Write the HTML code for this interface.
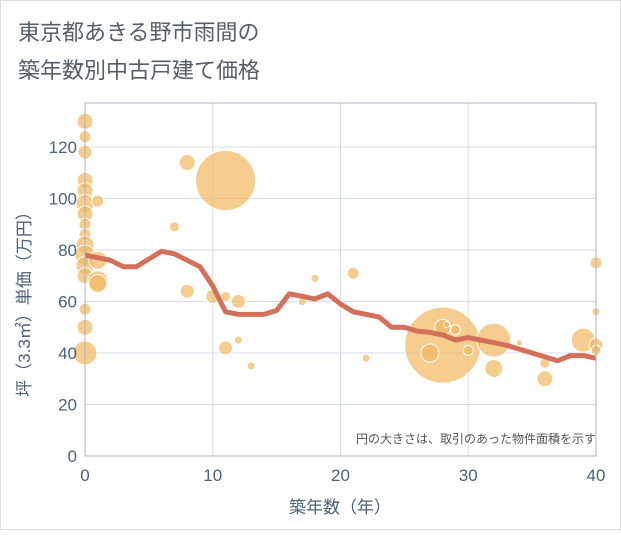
<!DOCTYPE html>
<html><head><meta charset="utf-8"><style>
body{margin:0;background:#fff;}
svg text{font-family:"Liberation Sans","Noto Sans CJK JP",sans-serif;}
</style></head><body>
<svg id="chart" width="621" height="530" xmlns="http://www.w3.org/2000/svg">
<rect x="0.5" y="0.5" width="620" height="529" fill="#fff" stroke="#ddd"/>
<text x="18" y="40" font-size="22" fill="#555f69">東京都あきる野市雨間の</text>
<text x="18" y="78" font-size="22" fill="#555f69">築年数別中古戸建て価格</text>
<g id="grid"></g>
<g id="bubbles"></g>
<g id="line"></g>
<g id="axes"></g>
<text x="596" y="443" font-size="12" fill="#555" text-anchor="end">円の大きさは、取引のあった物件面積を示す</text>
<text x="340" y="513" font-size="17" fill="#4b6278" text-anchor="middle">築年数（年）</text>
<text transform="translate(30,300) rotate(-90)" font-size="17" fill="#4b6278" text-anchor="middle">坪（3.3㎡）単価（万円）</text>
</svg>
<script>
const xTicks=[0,10,20,30,40];
const yTicks=[0,20,40,60,80,100,120];
const lineYears=[0,1,2,3,4,5,6,7,8,9,10,11,12,13,14,15,16,17,18,19,20,21,22,23,24,25,26,27,28,29,30,31,32,33,34,35,36,37,38,39,40];
const lineValues=[78,77,76,73.5,73.5,76.5,79.5,78.5,76,73.5,66,56,55,55,55,56.5,63,62,61,63,59,56,55,54,50,50,48.5,48,47,45,46,45,44,43,41.5,40,38.5,37,39,39,38];
const bubbleX=[0,0,0,0,0,0,0,0,0,0,0,0,0,0,0,0,1,1,1,1,7,8,8,11,10,11,12,12,11,13,17,18,21,22,28,27,28,28.3,29,30,32,32,34,36,36,39,40,40,40,40];
const bubbleY=[130,124,118,107,103,98,94,90,86,82,78,74,70,57,50,40,99,76,68,67,89,114,64,107,62,62,60,45,42,35,60,69,71,38,43,40,50,51,49,41,45,34,44,36,30,45,75,56,43,41];
const bubbleR=[8,6,7,8,8,9,8,6,6,9,10,9,8,6,8,12,6,9,10,9,5,8,7,30,7,5,7,4,7,4,4,4,6,4,38,9,8,3,5,5,17,9,3,5,8,12,6,4,7,5];
const X0=85,X1=596,Y0=456,Y1=147;
const sx=v=>X0+(X1-X0)*v/40;
const sy=v=>Y0-(Y0-Y1)*v/120;
const NS="http://www.w3.org/2000/svg";
function mk(tag,attrs,parent){const e=document.createElementNS(NS,tag);for(const k in attrs)e.setAttribute(k,attrs[k]);parent.appendChild(e);return e;}
const grid=document.getElementById('grid'),axes=document.getElementById('axes');
yTicks.forEach(t=>{
 const l=mk('line',{x1:X0,x2:X1,y1:sy(t),y2:sy(t),stroke:'#d5dde6','stroke-width':1},grid);
 
 
 const tx=mk('text',{x:77,y:sy(t)+6,'font-size':17,fill:'#4b6278','text-anchor':'end'},axes);
 tx.textContent=t;
 
 
});
xTicks.forEach(t=>{
 const l=mk('line',{x1:sx(t),x2:sx(t),y1:103,y2:Y0,stroke:'#d5dde6','stroke-width':1},grid);
 
 
 const tx=mk('text',{x:sx(t),y:481,'font-size':17,fill:'#4b6278','text-anchor':'middle'},axes);
 tx.textContent=t;
 
 
});
const fr=mk('rect',{x:X0,y:103,width:X1-X0,height:Y0-103,fill:'none',stroke:'#aab4be','stroke-width':1},axes);


const bg=document.getElementById('bubbles');
bubbleX.forEach((x,i)=>{
 const c=mk('circle',{cx:sx(x),cy:sy(bubbleY[i]),r:bubbleR[i],fill:'rgba(242,184,96,0.7)',stroke:'#fff','stroke-width':1},bg);
 
 
});
const pts=lineYears.map((x,i)=>sx(x)+','+sy(lineValues[i])).join(' ');
const pl=mk('polyline',{points:pts,fill:'none',stroke:'#d4705a','stroke-width':5,'stroke-linejoin':'round'},document.getElementById('line'));


</script>
</body></html>
